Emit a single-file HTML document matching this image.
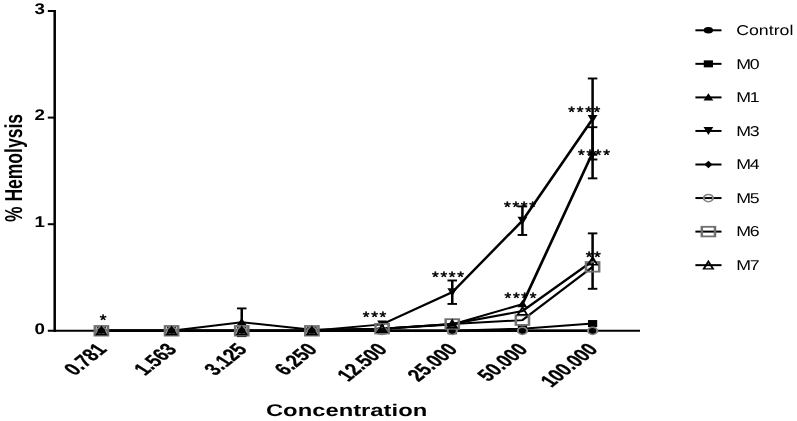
<!DOCTYPE html>
<html><head><meta charset="utf-8"><style>
html,body{margin:0;padding:0;background:#fff;}
svg{display:block;will-change:transform;} text{text-rendering:geometricPrecision;}
</style></head><body>
<svg width="797" height="421" viewBox="0 0 797 421">
<rect width="797" height="421" fill="#fff"/>
<g transform="scale(1.4,1)">
<line x1="39.07" y1="10" x2="39.07" y2="332" stroke="#000" stroke-width="1.8"/>
<line x1="34.14" y1="224.20" x2="39.07" y2="224.20" stroke="#000" stroke-width="2"/>
<line x1="34.14" y1="117.60" x2="39.07" y2="117.60" stroke="#000" stroke-width="2"/>
<line x1="34.14" y1="11.00" x2="39.07" y2="11.00" stroke="#000" stroke-width="2"/>
<line x1="34.14" y1="330.80" x2="457.14" y2="330.80" stroke="#000" stroke-width="2.1"/>
</g>
<text transform="translate(45.0,333.50) scale(1.21,1)" font-family='"Liberation Sans", sans-serif' font-weight="bold" font-size="15.5" text-anchor="end">0</text>
<text transform="translate(45.0,226.90) scale(1.21,1)" font-family='"Liberation Sans", sans-serif' font-weight="bold" font-size="15.5" text-anchor="end">1</text>
<text transform="translate(45.0,120.30) scale(1.21,1)" font-family='"Liberation Sans", sans-serif' font-weight="bold" font-size="15.5" text-anchor="end">2</text>
<text transform="translate(45.0,13.70) scale(1.21,1)" font-family='"Liberation Sans", sans-serif' font-weight="bold" font-size="15.5" text-anchor="end">3</text>
<text transform="translate(107.70,350.30) scale(1.4,1) rotate(-48) scale(0.8,1)" font-family='"Liberation Sans", sans-serif' font-weight="bold" font-size="17.5" text-anchor="end" stroke="#000" stroke-width="0.3">0.781</text>
<text transform="translate(177.87,350.30) scale(1.4,1) rotate(-48) scale(0.8,1)" font-family='"Liberation Sans", sans-serif' font-weight="bold" font-size="17.5" text-anchor="end" stroke="#000" stroke-width="0.3">1.563</text>
<text transform="translate(248.04,350.30) scale(1.4,1) rotate(-48) scale(0.8,1)" font-family='"Liberation Sans", sans-serif' font-weight="bold" font-size="17.5" text-anchor="end" stroke="#000" stroke-width="0.3">3.125</text>
<text transform="translate(318.21,350.30) scale(1.4,1) rotate(-48) scale(0.8,1)" font-family='"Liberation Sans", sans-serif' font-weight="bold" font-size="17.5" text-anchor="end" stroke="#000" stroke-width="0.3">6.250</text>
<text transform="translate(388.38,350.30) scale(1.4,1) rotate(-48) scale(0.8,1)" font-family='"Liberation Sans", sans-serif' font-weight="bold" font-size="17.5" text-anchor="end" stroke="#000" stroke-width="0.3">12.500</text>
<text transform="translate(458.55,350.30) scale(1.4,1) rotate(-48) scale(0.8,1)" font-family='"Liberation Sans", sans-serif' font-weight="bold" font-size="17.5" text-anchor="end" stroke="#000" stroke-width="0.3">25.000</text>
<text transform="translate(528.72,350.30) scale(1.4,1) rotate(-48) scale(0.8,1)" font-family='"Liberation Sans", sans-serif' font-weight="bold" font-size="17.5" text-anchor="end" stroke="#000" stroke-width="0.3">50.000</text>
<text transform="translate(598.89,350.30) scale(1.4,1) rotate(-48) scale(0.8,1)" font-family='"Liberation Sans", sans-serif' font-weight="bold" font-size="17.5" text-anchor="end" stroke="#000" stroke-width="0.3">100.000</text>
<g transform="scale(1.4,1)">
<text transform="translate(15.73,168) rotate(-90)" font-family='"Liberation Sans", sans-serif' font-weight="bold" font-size="17.5" text-anchor="middle">% Hemolysis</text>
<text x="247.57" y="416.4" font-family='"Liberation Sans", sans-serif' font-weight="bold" font-size="17" text-anchor="middle">Concentration</text>
<polyline points="72.43,330.80 122.55,330.80 172.67,330.80 222.79,330.80 272.91,330.80 323.04,330.80 373.16,330.80 423.28,330.80" fill="none" stroke="#000" stroke-width="2"/>
<polyline points="72.43,330.80 122.55,330.80 172.67,330.80 222.79,330.80 272.91,330.80 323.04,330.80 373.16,328.67 423.28,323.55" fill="none" stroke="#000" stroke-width="2"/>
<polyline points="72.43,330.80 122.55,330.80 172.67,322.27 222.79,329.73 272.91,328.67 323.04,324.40 373.16,304.15 423.28,152.78" fill="none" stroke="#000" stroke-width="2"/>
<polyline points="72.43,330.80 122.55,330.80 172.67,330.80 222.79,330.80 272.91,324.40 323.04,292.21 373.16,220.68 423.28,118.99" fill="none" stroke="#000" stroke-width="2"/>
<polyline points="72.43,330.80 122.55,330.80 172.67,330.80 222.79,330.80 272.91,330.80 323.04,330.80 373.16,330.80 423.28,330.80" fill="none" stroke="#000" stroke-width="2"/>
<polyline points="72.43,330.80 122.55,330.80 172.67,330.80 222.79,330.80 272.91,330.80 323.04,330.80 373.16,330.80 423.28,330.80" fill="none" stroke="#000" stroke-width="2"/>
<polyline points="72.43,330.80 122.55,330.80 172.67,330.80 222.79,330.80 272.91,328.67 323.04,323.98 373.16,320.14 423.28,266.84" fill="none" stroke="#000" stroke-width="2"/>
<polyline points="72.43,330.80 122.55,330.80 172.67,330.80 222.79,330.80 272.91,328.67 323.04,323.98 373.16,311.08 423.28,261.08" fill="none" stroke="#000" stroke-width="2"/>
<line x1="172.67" y1="308.41" x2="172.67" y2="336.13" stroke="#000" stroke-width="1.8"/>
<line x1="169.27" y1="308.41" x2="176.07" y2="308.41" stroke="#000" stroke-width="1.9"/>
<line x1="169.27" y1="336.13" x2="176.07" y2="336.13" stroke="#000" stroke-width="1.9"/>
<line x1="423.28" y1="127.19" x2="423.28" y2="178.36" stroke="#000" stroke-width="1.8"/>
<line x1="419.88" y1="127.19" x2="426.68" y2="127.19" stroke="#000" stroke-width="1.9"/>
<line x1="419.88" y1="178.36" x2="426.68" y2="178.36" stroke="#000" stroke-width="1.9"/>
<line x1="323.04" y1="280.48" x2="323.04" y2="303.94" stroke="#000" stroke-width="1.8"/>
<line x1="319.64" y1="280.48" x2="326.44" y2="280.48" stroke="#000" stroke-width="1.9"/>
<line x1="319.64" y1="303.94" x2="326.44" y2="303.94" stroke="#000" stroke-width="1.9"/>
<line x1="373.16" y1="206.40" x2="373.16" y2="234.97" stroke="#000" stroke-width="1.8"/>
<line x1="369.76" y1="206.40" x2="376.56" y2="206.40" stroke="#000" stroke-width="1.9"/>
<line x1="369.76" y1="234.97" x2="376.56" y2="234.97" stroke="#000" stroke-width="1.9"/>
<line x1="423.28" y1="78.48" x2="423.28" y2="159.49" stroke="#000" stroke-width="1.8"/>
<line x1="419.88" y1="78.48" x2="426.68" y2="78.48" stroke="#000" stroke-width="1.9"/>
<line x1="419.88" y1="159.49" x2="426.68" y2="159.49" stroke="#000" stroke-width="1.9"/>
<line x1="423.28" y1="233.37" x2="423.28" y2="288.80" stroke="#000" stroke-width="1.8"/>
<line x1="419.88" y1="233.37" x2="426.68" y2="233.37" stroke="#000" stroke-width="1.9"/>
<line x1="419.88" y1="288.80" x2="426.68" y2="288.80" stroke="#000" stroke-width="1.9"/>
<ellipse cx="72.43" cy="330.80" rx="3.3" ry="3.3" fill="#000"/>
<ellipse cx="122.55" cy="330.80" rx="3.3" ry="3.3" fill="#000"/>
<ellipse cx="172.67" cy="330.80" rx="3.3" ry="3.3" fill="#000"/>
<ellipse cx="222.79" cy="330.80" rx="3.3" ry="3.3" fill="#000"/>
<ellipse cx="272.91" cy="330.80" rx="3.3" ry="3.3" fill="#000"/>
<ellipse cx="323.04" cy="330.80" rx="3.3" ry="3.3" fill="#000"/>
<ellipse cx="373.16" cy="330.80" rx="3.3" ry="3.3" fill="#000"/>
<ellipse cx="423.28" cy="330.80" rx="3.3" ry="3.3" fill="#000"/>
<rect x="69.13" y="327.30" width="6.6" height="7" fill="#000"/>
<rect x="119.25" y="327.30" width="6.6" height="7" fill="#000"/>
<rect x="169.37" y="327.30" width="6.6" height="7" fill="#000"/>
<rect x="219.49" y="327.30" width="6.6" height="7" fill="#000"/>
<rect x="269.61" y="327.30" width="6.6" height="7" fill="#000"/>
<rect x="319.74" y="327.30" width="6.6" height="7" fill="#000"/>
<rect x="369.86" y="325.17" width="6.6" height="7" fill="#000"/>
<rect x="419.98" y="320.05" width="6.6" height="7" fill="#000"/>
<path d="M72.43,326.60 L75.93,333.80 L68.93,333.80Z" fill="#000"/>
<path d="M122.55,326.60 L126.05,333.80 L119.05,333.80Z" fill="#000"/>
<path d="M172.67,318.07 L176.17,325.27 L169.17,325.27Z" fill="#000"/>
<path d="M222.79,325.53 L226.29,332.73 L219.29,332.73Z" fill="#000"/>
<path d="M272.91,324.47 L276.41,331.67 L269.41,331.67Z" fill="#000"/>
<path d="M323.04,320.20 L326.54,327.40 L319.54,327.40Z" fill="#000"/>
<path d="M373.16,299.95 L376.66,307.15 L369.66,307.15Z" fill="#000"/>
<path d="M423.28,148.58 L426.78,155.78 L419.78,155.78Z" fill="#000"/>
<path d="M68.93,326.80 L75.93,326.80 L72.43,334.80Z" fill="#000"/>
<path d="M119.05,326.80 L126.05,326.80 L122.55,334.80Z" fill="#000"/>
<path d="M169.17,326.80 L176.17,326.80 L172.67,334.80Z" fill="#000"/>
<path d="M219.29,326.80 L226.29,326.80 L222.79,334.80Z" fill="#000"/>
<path d="M269.41,320.40 L276.41,320.40 L272.91,328.40Z" fill="#000"/>
<path d="M319.54,288.21 L326.54,288.21 L323.04,296.21Z" fill="#000"/>
<path d="M369.66,216.68 L376.66,216.68 L373.16,224.68Z" fill="#000"/>
<path d="M419.78,114.99 L426.78,114.99 L423.28,122.99Z" fill="#000"/>
<path d="M72.43,327.00 L75.33,330.80 L72.43,334.60 L69.53,330.80Z" fill="#000"/>
<path d="M122.55,327.00 L125.45,330.80 L122.55,334.60 L119.65,330.80Z" fill="#000"/>
<path d="M172.67,327.00 L175.57,330.80 L172.67,334.60 L169.77,330.80Z" fill="#000"/>
<path d="M222.79,327.00 L225.69,330.80 L222.79,334.60 L219.89,330.80Z" fill="#000"/>
<path d="M272.91,327.00 L275.81,330.80 L272.91,334.60 L270.01,330.80Z" fill="#000"/>
<path d="M323.04,327.00 L325.94,330.80 L323.04,334.60 L320.14,330.80Z" fill="#000"/>
<path d="M373.16,327.00 L376.06,330.80 L373.16,334.60 L370.26,330.80Z" fill="#000"/>
<path d="M423.28,327.00 L426.18,330.80 L423.28,334.60 L420.38,330.80Z" fill="#000"/>
<ellipse cx="72.43" cy="330.80" rx="3.3" ry="3.6" fill="none" stroke="#808080" stroke-width="1.5"/>
<ellipse cx="122.55" cy="330.80" rx="3.3" ry="3.6" fill="none" stroke="#808080" stroke-width="1.5"/>
<ellipse cx="172.67" cy="330.80" rx="3.3" ry="3.6" fill="none" stroke="#808080" stroke-width="1.5"/>
<ellipse cx="222.79" cy="330.80" rx="3.3" ry="3.6" fill="none" stroke="#808080" stroke-width="1.5"/>
<ellipse cx="272.91" cy="330.80" rx="3.3" ry="3.6" fill="none" stroke="#808080" stroke-width="1.5"/>
<ellipse cx="323.04" cy="330.80" rx="3.3" ry="3.6" fill="none" stroke="#808080" stroke-width="1.5"/>
<ellipse cx="373.16" cy="330.80" rx="3.3" ry="3.6" fill="none" stroke="#808080" stroke-width="1.5"/>
<ellipse cx="423.28" cy="330.80" rx="3.3" ry="3.6" fill="none" stroke="#808080" stroke-width="1.5"/>
<rect x="67.73" y="326.00" width="9.4" height="9.6" fill="none" stroke="#707070" stroke-width="1.8"/>
<rect x="117.85" y="326.00" width="9.4" height="9.6" fill="none" stroke="#707070" stroke-width="1.8"/>
<rect x="167.97" y="326.00" width="9.4" height="9.6" fill="none" stroke="#707070" stroke-width="1.8"/>
<rect x="218.09" y="326.00" width="9.4" height="9.6" fill="none" stroke="#707070" stroke-width="1.8"/>
<rect x="268.21" y="323.87" width="9.4" height="9.6" fill="none" stroke="#707070" stroke-width="1.8"/>
<rect x="318.34" y="319.18" width="9.4" height="9.6" fill="none" stroke="#707070" stroke-width="1.8"/>
<rect x="368.46" y="315.34" width="9.4" height="9.6" fill="none" stroke="#707070" stroke-width="1.8"/>
<rect x="418.58" y="262.04" width="9.4" height="9.6" fill="none" stroke="#707070" stroke-width="1.8"/>
<path d="M72.43,327.10 L75.78,334.50 L69.08,334.50Z" fill="none" stroke="#000" stroke-width="1.4" stroke-linejoin="miter"/>
<path d="M122.55,327.10 L125.90,334.50 L119.20,334.50Z" fill="none" stroke="#000" stroke-width="1.4" stroke-linejoin="miter"/>
<path d="M172.67,327.10 L176.02,334.50 L169.32,334.50Z" fill="none" stroke="#000" stroke-width="1.4" stroke-linejoin="miter"/>
<path d="M222.79,327.10 L226.14,334.50 L219.44,334.50Z" fill="none" stroke="#000" stroke-width="1.4" stroke-linejoin="miter"/>
<path d="M272.91,324.97 L276.26,332.37 L269.56,332.37Z" fill="none" stroke="#000" stroke-width="1.4" stroke-linejoin="miter"/>
<path d="M323.04,320.28 L326.39,327.68 L319.69,327.68Z" fill="none" stroke="#000" stroke-width="1.4" stroke-linejoin="miter"/>
<path d="M373.16,307.38 L376.51,314.78 L369.81,314.78Z" fill="none" stroke="#000" stroke-width="1.4" stroke-linejoin="miter"/>
<path d="M423.28,257.38 L426.63,264.78 L419.93,264.78Z" fill="none" stroke="#000" stroke-width="1.4" stroke-linejoin="miter"/>
</g>
<text transform="translate(103.00,325.40) scale(1.15,1)" font-family='"Liberation Sans", sans-serif' font-size="15" text-anchor="middle" stroke="#000" stroke-width="0.5">*</text>
<text transform="translate(366.10,321.90) scale(1.15,1)" font-family='"Liberation Sans", sans-serif' font-size="15" text-anchor="middle" stroke="#000" stroke-width="0.5">*</text>
<text transform="translate(374.50,321.90) scale(1.15,1)" font-family='"Liberation Sans", sans-serif' font-size="15" text-anchor="middle" stroke="#000" stroke-width="0.5">*</text>
<text transform="translate(382.90,321.90) scale(1.15,1)" font-family='"Liberation Sans", sans-serif' font-size="15" text-anchor="middle" stroke="#000" stroke-width="0.5">*</text>
<text transform="translate(435.40,281.90) scale(1.15,1)" font-family='"Liberation Sans", sans-serif' font-size="15" text-anchor="middle" stroke="#000" stroke-width="0.5">*</text>
<text transform="translate(443.80,281.90) scale(1.15,1)" font-family='"Liberation Sans", sans-serif' font-size="15" text-anchor="middle" stroke="#000" stroke-width="0.5">*</text>
<text transform="translate(452.20,281.90) scale(1.15,1)" font-family='"Liberation Sans", sans-serif' font-size="15" text-anchor="middle" stroke="#000" stroke-width="0.5">*</text>
<text transform="translate(460.60,281.90) scale(1.15,1)" font-family='"Liberation Sans", sans-serif' font-size="15" text-anchor="middle" stroke="#000" stroke-width="0.5">*</text>
<text transform="translate(507.40,212.40) scale(1.15,1)" font-family='"Liberation Sans", sans-serif' font-size="15" text-anchor="middle" stroke="#000" stroke-width="0.5">*</text>
<text transform="translate(515.80,212.40) scale(1.15,1)" font-family='"Liberation Sans", sans-serif' font-size="15" text-anchor="middle" stroke="#000" stroke-width="0.5">*</text>
<text transform="translate(524.20,212.40) scale(1.15,1)" font-family='"Liberation Sans", sans-serif' font-size="15" text-anchor="middle" stroke="#000" stroke-width="0.5">*</text>
<text transform="translate(532.60,212.40) scale(1.15,1)" font-family='"Liberation Sans", sans-serif' font-size="15" text-anchor="middle" stroke="#000" stroke-width="0.5">*</text>
<text transform="translate(507.90,303.40) scale(1.15,1)" font-family='"Liberation Sans", sans-serif' font-size="15" text-anchor="middle" stroke="#000" stroke-width="0.5">*</text>
<text transform="translate(516.30,303.40) scale(1.15,1)" font-family='"Liberation Sans", sans-serif' font-size="15" text-anchor="middle" stroke="#000" stroke-width="0.5">*</text>
<text transform="translate(524.70,303.40) scale(1.15,1)" font-family='"Liberation Sans", sans-serif' font-size="15" text-anchor="middle" stroke="#000" stroke-width="0.5">*</text>
<text transform="translate(533.10,303.40) scale(1.15,1)" font-family='"Liberation Sans", sans-serif' font-size="15" text-anchor="middle" stroke="#000" stroke-width="0.5">*</text>
<text transform="translate(571.70,117.40) scale(1.15,1)" font-family='"Liberation Sans", sans-serif' font-size="15" text-anchor="middle" stroke="#000" stroke-width="0.5">*</text>
<text transform="translate(580.10,117.40) scale(1.15,1)" font-family='"Liberation Sans", sans-serif' font-size="15" text-anchor="middle" stroke="#000" stroke-width="0.5">*</text>
<text transform="translate(588.50,117.40) scale(1.15,1)" font-family='"Liberation Sans", sans-serif' font-size="15" text-anchor="middle" stroke="#000" stroke-width="0.5">*</text>
<text transform="translate(596.90,117.40) scale(1.15,1)" font-family='"Liberation Sans", sans-serif' font-size="15" text-anchor="middle" stroke="#000" stroke-width="0.5">*</text>
<text transform="translate(581.40,160.40) scale(1.15,1)" font-family='"Liberation Sans", sans-serif' font-size="15" text-anchor="middle" stroke="#000" stroke-width="0.5">*</text>
<text transform="translate(589.80,160.40) scale(1.15,1)" font-family='"Liberation Sans", sans-serif' font-size="15" text-anchor="middle" stroke="#000" stroke-width="0.5">*</text>
<text transform="translate(598.20,160.40) scale(1.15,1)" font-family='"Liberation Sans", sans-serif' font-size="15" text-anchor="middle" stroke="#000" stroke-width="0.5">*</text>
<text transform="translate(606.60,160.40) scale(1.15,1)" font-family='"Liberation Sans", sans-serif' font-size="15" text-anchor="middle" stroke="#000" stroke-width="0.5">*</text>
<text transform="translate(589.00,261.90) scale(1.15,1)" font-family='"Liberation Sans", sans-serif' font-size="15" text-anchor="middle" stroke="#000" stroke-width="0.5">*</text>
<text transform="translate(597.40,261.90) scale(1.15,1)" font-family='"Liberation Sans", sans-serif' font-size="15" text-anchor="middle" stroke="#000" stroke-width="0.5">*</text>
<g transform="scale(1.4,1)">
<line x1="496.71" y1="30.30" x2="515.36" y2="30.30" stroke="#000" stroke-width="2"/>
<ellipse cx="506.00" cy="30.30" rx="3.3" ry="3.3" fill="#000"/>
<line x1="496.71" y1="63.85" x2="515.36" y2="63.85" stroke="#000" stroke-width="2"/>
<rect x="502.70" y="60.35" width="6.6" height="7" fill="#000"/>
<line x1="496.71" y1="97.40" x2="515.36" y2="97.40" stroke="#000" stroke-width="2"/>
<path d="M506.00,93.20 L509.50,100.40 L502.50,100.40Z" fill="#000"/>
<line x1="496.71" y1="130.95" x2="515.36" y2="130.95" stroke="#000" stroke-width="2"/>
<path d="M502.50,126.95 L509.50,126.95 L506.00,134.95Z" fill="#000"/>
<line x1="496.71" y1="164.50" x2="515.36" y2="164.50" stroke="#000" stroke-width="2"/>
<path d="M506.00,160.70 L508.90,164.50 L506.00,168.30 L503.10,164.50Z" fill="#000"/>
<line x1="496.71" y1="198.05" x2="515.36" y2="198.05" stroke="#000" stroke-width="2"/>
<ellipse cx="506.00" cy="198.05" rx="3.3" ry="3.6" fill="none" stroke="#808080" stroke-width="1.5"/>
<line x1="496.71" y1="231.60" x2="515.36" y2="231.60" stroke="#000" stroke-width="2"/>
<rect x="501.30" y="226.80" width="9.4" height="9.6" fill="none" stroke="#707070" stroke-width="1.8"/>
<line x1="496.71" y1="265.15" x2="515.36" y2="265.15" stroke="#000" stroke-width="2"/>
<path d="M506.00,261.45 L509.35,268.85 L502.65,268.85Z" fill="none" stroke="#000" stroke-width="1.4" stroke-linejoin="miter"/>
</g>
<text transform="translate(736.20,35.10) scale(1.25,1)" font-family='"Liberation Sans", sans-serif' font-size="14.2">Control</text>
<text transform="translate(736.20,68.65) scale(1.25,1)" font-family='"Liberation Sans", sans-serif' font-size="14.2" letter-spacing="-1">M0</text>
<text transform="translate(736.20,102.20) scale(1.25,1)" font-family='"Liberation Sans", sans-serif' font-size="14.2" letter-spacing="-1">M1</text>
<text transform="translate(736.20,135.75) scale(1.25,1)" font-family='"Liberation Sans", sans-serif' font-size="14.2" letter-spacing="-1">M3</text>
<text transform="translate(736.20,169.30) scale(1.25,1)" font-family='"Liberation Sans", sans-serif' font-size="14.2" letter-spacing="-1">M4</text>
<text transform="translate(736.20,202.85) scale(1.25,1)" font-family='"Liberation Sans", sans-serif' font-size="14.2" letter-spacing="-1">M5</text>
<text transform="translate(736.20,236.40) scale(1.25,1)" font-family='"Liberation Sans", sans-serif' font-size="14.2" letter-spacing="-1">M6</text>
<text transform="translate(736.20,269.95) scale(1.25,1)" font-family='"Liberation Sans", sans-serif' font-size="14.2" letter-spacing="-1">M7</text>
</svg>
</body></html>
